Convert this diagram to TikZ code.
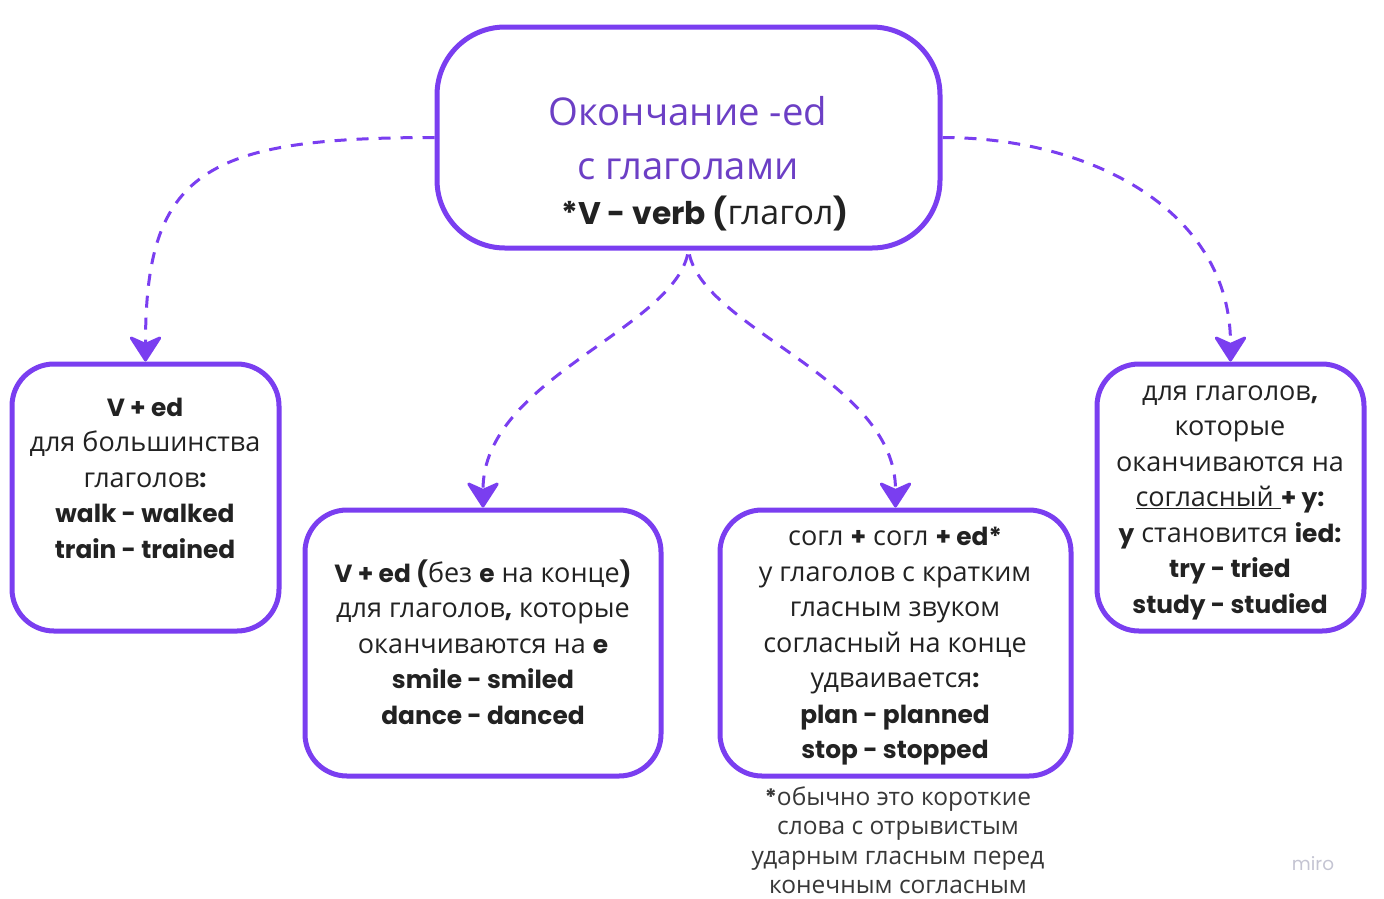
\documentclass[tikz,border=0pt]{standalone}
\usepackage{fontspec}
\setmainfont{Open Sans}
\newfontfamily\popfont{Poppins}[Scale=0.92]
\usepackage{tikz}
\usetikzlibrary{arrows.meta,positioning}
\definecolor{miroviolet}{HTML}{7A3EF0}
\definecolor{titleviolet}{HTML}{6C3FC5}
\definecolor{ink}{HTML}{222222}
\definecolor{mirogray}{HTML}{C4C4D2}
\newcommand\bt[1]{{\popfont\bfseries #1}}
\tikzset{
    box/.style={draw=miroviolet, line width=5pt, rounded corners=#1, inner sep=0pt},
    box/.default=42pt,
    link/.style={miroviolet, line width=3pt, dash pattern=on 12pt off 10pt,
        -{Stealth[width=36pt, length=28pt, inset=8pt, round]}},
    txt/.style={align=center, text=ink, inner sep=0pt, font=\fontsize{27}{35.5}\selectfont},
    title/.style={text=titleviolet, inner sep=0pt, font=\fontsize{38.3}{45}\selectfont}
}
\begin{document}
\begin{tikzpicture}[x=1pt, y=-1pt]
    \useasboundingbox (0,0) rectangle (1384,898);
    % boxes
    \node[box=68pt, minimum width=503pt, minimum height=221pt] (top) at (688.5,137.5) {};
    \node[box, minimum width=267pt, minimum height=267pt] (v1) at (145.5,497.5) {};
    \node[box, minimum width=356pt, minimum height=266pt] (v2) at (483,643) {};
    \node[box, minimum width=351pt, minimum height=266pt] (v3) at (895.5,643) {};
    \node[box, minimum width=267pt, minimum height=267pt] (v4) at (1230.5,497.5) {};
    % texts
    \node[title] (topA) at (688,111) {Окончание -ed};
    \node[title] (topB) at (688,169) {с глаголами};
    \node[txt, font=\fontsize{34}{38}\selectfont] (topC) at (705,213) {\bt{*V - verb (}глагол\bt{)}};
    \node[txt] (v1txt) at (145,478) {\bt{V + ed}\\ для большинства\\ глаголов\bt{:}\\
        \bt{walk - walked}\\ \bt{train - trained}};
    \node[txt] (v2txt) at (483,642) {\bt{V + ed (}без \bt{e} на конце\bt{)}\\
        для глаголов\bt{,} которые\\ оканчиваются на \bt{e}\\
        \bt{smile - smiled}\\ \bt{dance - danced}};
    \node[txt] (v3txt) at (895,646.5) {согл \bt{+} согл \bt{+ ed*}\\ у глаголов с кратким\\
        гласным звуком\\ согласный на конце\\ удваивается\bt{:}\\
        \bt{plan - planned}\\ \bt{stop - stopped}};
    \node[txt] (v4txt) at (1230,502.5) {для глаголов\bt{,}\\ которые\\ оканчиваются на\\
        \underline{согласный\ }\bt{+ y:}\\ \bt{y} становится \bt{ied:}\\
        \bt{try - tried}\\ \bt{study - studied}};
    \node[txt, font=\fontsize{24.5}{29.5}\selectfont, text=ink!90] (note) at (898,840)
        {\bt{*}обычно это короткие\\ слова с отрывистым\\ ударным гласным перед\\ конечным согласным};
    \node[text=mirogray, font=\popfont\fontsize{20}{22}\selectfont] (miro) at (1313,864) {miro};
    % connectors
    \draw[link] (top.west) .. controls +(-230,0) and +(0,-190) .. (v1.north);
    \draw[link] (top.east) .. controls +(150,0) and +(0,-150) .. (v4.north);
    \draw[link, shorten <=4pt] (top.south) .. controls +(-18,80) and +(0,-128) .. (v2.north);
    \draw[link, shorten <=4pt] (top.south) .. controls +(18,80) and +(0,-128) .. (v3.north);
\end{tikzpicture}
\end{document}
